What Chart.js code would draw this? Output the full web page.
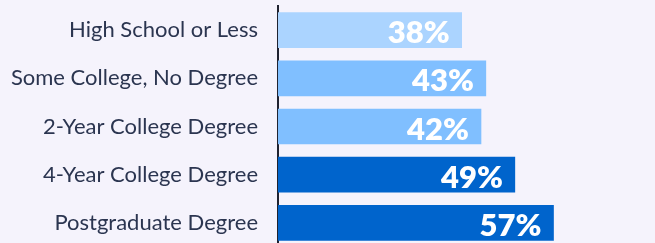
<!DOCTYPE html>
<html>
<head>
<meta charset="utf-8">
<script src="https://cdn.jsdelivr.net/npm/chart.js@4/dist/chart.umd.min.js"></script>
<style>
  html, body { margin: 0; padding: 0; background: #f5f3fc; overflow: hidden; width: 655px; height: 243px; }
  #wrap { position: relative; width: 655px; height: 247px; }
</style>
</head>
<body>
<div id="wrap"><canvas id="c"></canvas></div>
<script>
const categories = ["High School or Less", "Some College, No Degree", "2-Year College Degree", "4-Year College Degree", "Postgraduate Degree"];
const values = [38, 43, 42, 49, 57];
const valueLabels = ["38%", "43%", "42%", "49%", "57%"];
const barColors = ["#abd4ff", "#80bfff", "#80bfff", "#0064cc", "#0064cc"];

const valuePlugin = {
  id: 'valueLabels',
  afterDatasetsDraw(chart) {
    const ctx = chart.ctx;
    const meta = chart.getDatasetMeta(0);
    ctx.save();
    ctx.fillStyle = '#ffffff';
    ctx.font = '800 31px Lato';
    ctx.textAlign = 'right';
    ctx.textBaseline = 'alphabetic';
    meta.data.forEach((bar, i) => {
      ctx.fillText(valueLabels[i], bar.x - 12, bar.y + 13);
    });
    ctx.restore();
  }
};

new Chart(document.getElementById('c'), {
  type: 'bar',
  data: {
    labels: categories,
    datasets: [{
      data: values,
      backgroundColor: barColors,
      borderWidth: 0,
      barThickness: 35
    }]
  },
  options: {
    indexAxis: 'y',
    responsive: true,
    maintainAspectRatio: false,
    animation: false,
    layout: { autoPadding: false, padding: { top: 6, bottom: 0, left: 0, right: 0 } },
    plugins: { legend: { display: false }, tooltip: { enabled: false } },
    scales: {
      x: { display: false, min: 0, max: 78 },
      y: {
        grid: { display: false, drawTicks: false },
        border: { display: true, color: '#1f2230', width: 2 },
        ticks: { color: '#2b3550', font: { family: 'Lato', size: 22 }, padding: 20 },
        afterFit(scale) {
          scale.width = 278;
          scale.paddingTop = 0;
          scale.paddingBottom = 0;
        }
      }
    }
  },
  plugins: [valuePlugin]
});
</script>
</body>
</html>
